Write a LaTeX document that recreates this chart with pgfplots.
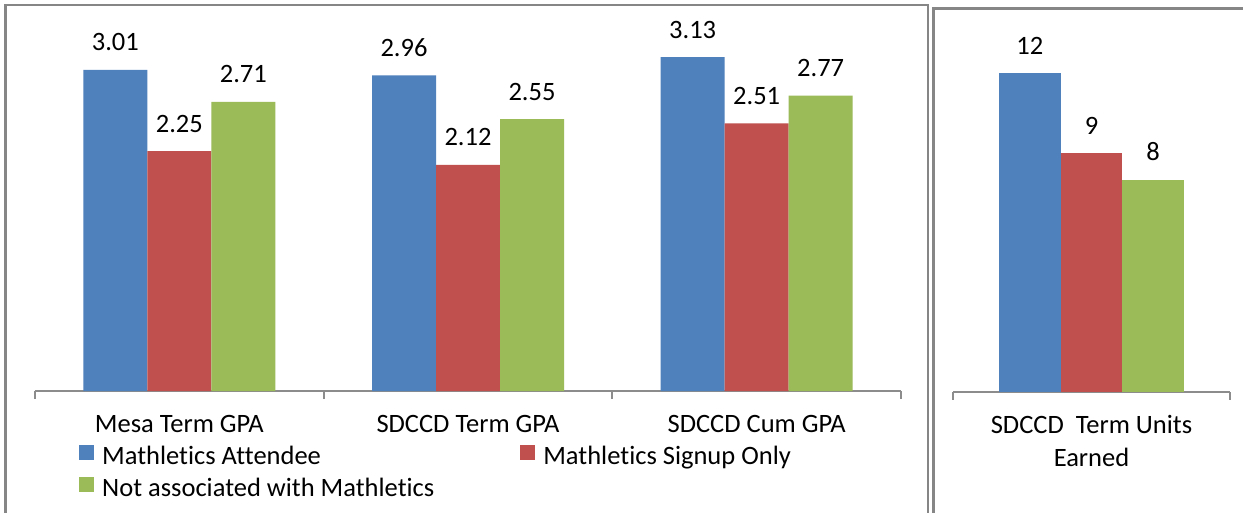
\documentclass[border=0pt]{standalone}
\usepackage{fontspec}
\setmainfont{Carlito}[Ligatures=CommonOff]
\usepackage{pgfplots}
\pgfplotsset{compat=1.18}
\definecolor{cblue}{HTML}{4F81BD}
\definecolor{cred}{HTML}{C0504D}
\definecolor{cgreen}{HTML}{9BBB59}
\definecolor{bordergray}{HTML}{868686}
\definecolor{axisgray}{HTML}{8C8C8C}
\pgfplotsset{
  panel/.style={
    scale only axis,
    anchor=south west,
    xmin=-0.5,
    ymin=0,
    hide y axis,
    axis x line=bottom,
    x axis line style={-, draw=axisgray, line width=1.8pt},
    major tick length=0pt,
    minor tick length=8pt,
    tick align=outside,
    minor tick style={draw=axisgray, line width=1.8pt},
    major tick style={draw=none},
    ybar=0pt,
    clip=false,
    xticklabel style={anchor=base, yshift=-41pt, text=black},
    nodes near coords,
    every node near coord/.append style={anchor=base, yshift=19pt, inner sep=0pt, text=black},
    /pgf/number format/assume math mode=true,
  },
}
\begin{document}
\begin{tikzpicture}[font=\fontsize{26.5}{31}\selectfont]
\clip (0pt,0pt) rectangle (1243pt,512pt);
\fill[white] (0pt,0pt) rectangle (1243pt,512pt);
\draw[line width=2.5pt, color=bordergray] (5.5pt,-10pt) -- (5.5pt,507pt) -- (928pt,507pt) -- (928pt,-10pt);
\draw[line width=2.5pt, color=bordergray] (933.5pt,-10pt) -- (933.5pt,503.5pt) -- (1260pt,503.5pt);

\begin{axis}[panel,
  at={(35pt,121pt)},
  width=866pt, height=373.3pt,
  xmax=2.5, ymax=3.5,
  bar width=64pt,
  xtick={0,1,2},
  xticklabels={Mesa Term GPA, SDCCD Term GPA, SDCCD Cum GPA},
  minor xtick={-0.5,0.5,1.5,2.5},
  legend columns=2,
  legend cell align=left,
  legend style={draw=none, fill=none, inner sep=0pt,
    at={(axis description cs:0,0)}, anchor=north west,
    xshift=44pt, yshift=-54pt, row sep=6pt,
    nodes={inner sep=0pt, text height=19pt, text depth=6pt},
    /tikz/every odd column/.style={column sep=8pt},
    /tikz/every even column/.style={column sep=86pt}},
  legend image code/.code={\fill[#1] (0pt,-2pt) rectangle (15pt,13pt);},
]
\addplot[fill=cblue, draw=none] coordinates {(0,3.01) (1,2.96) (2,3.13)};
\addplot[fill=cred, draw=none] coordinates {(0,2.25) (1,2.12) (2,2.51)};
\addplot[fill=cgreen, draw=none] coordinates {(0,2.71) (1,2.55) (2,2.77)};
\legend{Mathletics Attendee, Mathletics Signup Only, Not associated with Mathletics}
\end{axis}

\begin{axis}[panel,
  at={(953pt,120pt)},
  width=277pt, height=371.7pt,
  xmax=0.5, ymax=14,
  bar width=61.7pt,
  xtick={0},
  xticklabels={{SDCCD\ \ Term Units\\Earned}},
  xticklabel style={align=center, yshift=-33pt, font=\fontsize{26.5}{33}\selectfont},
  minor xtick={-0.5,0.5},
]
\addplot[fill=cblue, draw=none] coordinates {(0,12)};
\addplot[fill=cred, draw=none] coordinates {(0,9)};
\addplot[fill=cgreen, draw=none] coordinates {(0,8)};
\end{axis}
\end{tikzpicture}
\end{document}
